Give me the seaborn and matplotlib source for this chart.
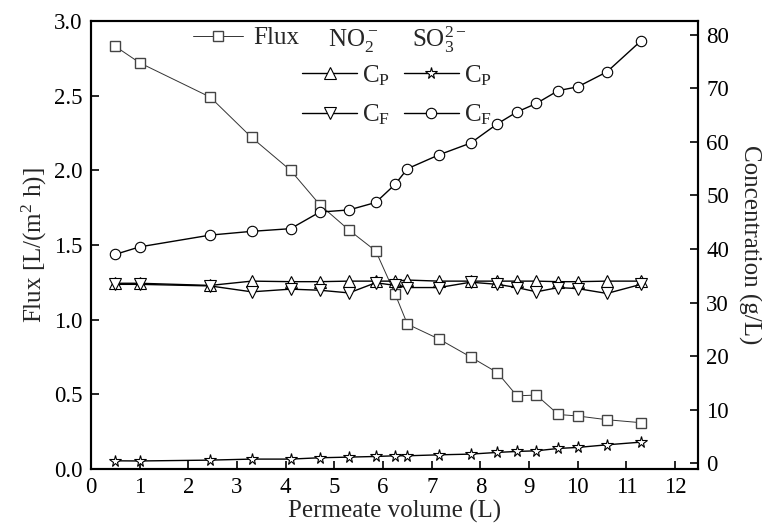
import matplotlib
matplotlib.use("Agg")
import matplotlib.pyplot as plt
import seaborn as sns
import pandas as pd
from matplotlib.lines import Line2D

volume = [0.5, 1.0, 2.45, 3.3, 4.1, 4.7, 5.3, 5.85, 6.25, 6.5, 7.15, 7.8, 8.35, 8.75, 9.15, 9.6, 10.0, 10.6, 11.3]
flux = [2.83, 2.72, 2.49, 2.22, 2.00, 1.77, 1.60, 1.46, 1.17, 0.97, 0.87, 0.75, 0.645, 0.49, 0.495, 0.365, 0.355, 0.33, 0.31]
no2_cp = [33.6, 33.6, 33.2, 34.0, 33.9, 33.9, 34.0, 34.0, 34.0, 34.2, 34.0, 34.0, 34.0, 34.0, 34.0, 33.9, 33.9, 34.0, 34.0]
no2_cf = [33.4, 33.4, 33.1, 32.0, 32.5, 32.3, 31.8, 33.7, 33.2, 32.8, 32.8, 33.8, 33.4, 32.8, 32.0, 32.8, 32.6, 31.7, 33.4]
so3_cp = [0.43, 0.40, 0.56, 0.75, 0.75, 1.0, 1.12, 1.24, 1.37, 1.37, 1.55, 1.68, 2.0, 2.18, 2.3, 2.74, 2.93, 3.42, 3.92]
so3_cf = [39.0, 40.4, 42.6, 43.3, 43.8, 46.9, 47.3, 48.7, 52.1, 55.0, 57.6, 59.8, 63.4, 65.6, 67.2, 69.6, 70.3, 73.1, 78.9]

x_ticks = [0, 1, 2, 3, 4, 5, 6, 7, 8, 9, 10, 11, 12]
left_ticks = [0.0, 0.5, 1.0, 1.5, 2.0, 2.5, 3.0]
right_ticks = [0, 10, 20, 30, 40, 50, 60, 70, 80]

df = pd.DataFrame({"volume": volume, "flux": flux, "no2_cp": no2_cp, "no2_cf": no2_cf,
                   "so3_cp": so3_cp, "so3_cf": so3_cf})

sns.set_theme(style="ticks")
plt.rcParams["font.family"] = ["Liberation Serif", "DejaVu Serif"]
plt.rcParams["mathtext.fontset"] = "custom"
plt.rcParams["mathtext.rm"] = "Liberation Serif"
plt.rcParams["mathtext.it"] = "Liberation Serif"
plt.rcParams["mathtext.default"] = "regular"

FS = 16.5
LFS = 18
fig = plt.figure(figsize=(7.62, 5.32), dpi=100)
ax = fig.add_axes([91/762, 1-469/532, (698-91)/762, (469-21)/532])
ax2 = ax.twinx()

flux_style = dict(color="#333333", linewidth=0.7, marker="s", markersize=6.5,
                  markerfacecolor="white", markeredgecolor="#444444", markeredgewidth=1.0)
sns.lineplot(data=df, x="volume", y="flux", ax=ax, **flux_style)

common = dict(color="black", linewidth=1.0, markerfacecolor="white", markeredgecolor="black",
              markeredgewidth=0.8)
sns.lineplot(data=df, x="volume", y="no2_cp", ax=ax2, marker="^", markersize=8, **common)
sns.lineplot(data=df, x="volume", y="no2_cf", ax=ax2, marker="v", markersize=8, **common)
sns.lineplot(data=df, x="volume", y="so3_cp", ax=ax2, marker="*", markersize=8.5, **common)
sns.lineplot(data=df, x="volume", y="so3_cf", ax=ax2, marker="o", markersize=7.5, **common)

ax.set_xlim(0, 12.47)
ax.set_ylim(0, 3.0)
ax2.set_ylim(-1.1, 82.6)
ax.set_xticks(x_ticks)
ax.set_yticks(left_ticks)
ax.set_yticklabels([f"{v:.1f}" for v in left_ticks])
ax2.set_yticks(right_ticks)

for a in (ax, ax2):
    for s in a.spines.values():
        s.set_visible(True)
        s.set_linewidth(1.5)
        s.set_color("black")
ax.tick_params(axis="both", direction="in", length=6, width=1.2, labelsize=FS, colors="black", pad=6)
ax2.tick_params(axis="y", direction="in", length=6, width=1.2, labelsize=FS, colors="black", pad=6)

ax.set_xlabel("Permeate volume (L)", fontsize=LFS, labelpad=1)
ax.set_ylabel("Flux [L/(m$^2$ h)]", fontsize=LFS, labelpad=4)
ax2.set_ylabel("Concentration (g/L)", fontsize=LFS, rotation=270, labelpad=23)

def fx(px):
    return (px - 91) / 607

def fy(py):
    return 1 - (py - 21) / 448

h_flux = Line2D([], [], **flux_style)
ax.legend([h_flux], ["Flux"], loc="center left", bbox_to_anchor=(fx(193), fy(38)),
          frameon=False, fontsize=LFS, handlelength=2.0, handletextpad=0.4,
          borderaxespad=0, borderpad=0)

h_tu = Line2D([], [], marker="^", markersize=8, **common)
h_td = Line2D([], [], marker="v", markersize=8, **common)
h_st = Line2D([], [], marker="*", markersize=8.5, **common)
h_ci = Line2D([], [], marker="o", markersize=7.5, **common)
ax2.legend([h_tu, h_td, h_st, h_ci], ["C$_P$", "C$_F$", "C$_P$", "C$_F$"], ncol=2,
           loc="center left", bbox_to_anchor=(fx(302), fy(95)), frameon=False, fontsize=LFS,
           handlelength=2.2, handletextpad=0.2, columnspacing=0.55, labelspacing=0.6,
           borderaxespad=0, borderpad=0)

ax.text(fx(328), fy(40), "NO$_2^-$", transform=ax.transAxes, fontsize=LFS,
        ha="left", va="center")
ax.text(fx(412), fy(40), "SO$_3^{2-}$", transform=ax.transAxes, fontsize=LFS,
        ha="left", va="center")

fig.savefig("out.png", dpi=100)
